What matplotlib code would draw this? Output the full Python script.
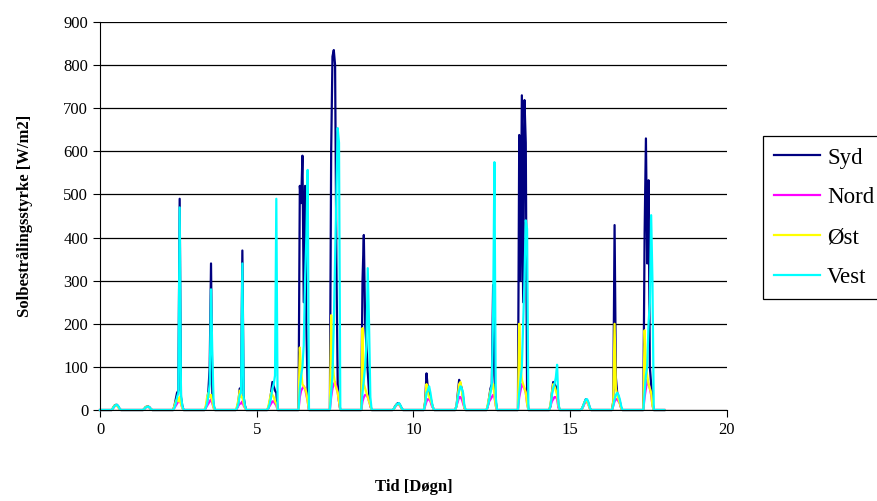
import matplotlib.pyplot as plt
import numpy as np

# hourly irradiance for hours 08..16 of each day (night hours are zero)
hours = [8, 9, 10, 11, 12, 13, 14, 15, 16]

syd = [
    [0, 0, 5, 10, 12, 12, 8, 3, 0],
    [0, 0, 3, 7, 8, 8, 6, 2, 0],
    [0, 10, 25, 40, 45, 490, 30, 10, 0],
    [0, 5, 20, 45, 100, 340, 40, 10, 0],
    [0, 5, 20, 50, 45, 370, 30, 10, 0],
    [0, 5, 20, 40, 65, 55, 45, 40, 0],
    [0, 520, 480, 590, 250, 520, 200, 40, 0],
    [0, 600, 820, 835, 800, 345, 60, 20, 0],
    [0, 300, 406, 200, 150, 90, 40, 10, 0],
    [0, 3, 9, 13, 16, 15, 10, 4, 0],
    [0, 20, 85, 50, 40, 30, 15, 5, 0],
    [0, 10, 40, 70, 60, 50, 30, 5, 0],
    [0, 10, 30, 50, 60, 290, 80, 20, 0],
    [0, 638, 300, 730, 250, 719, 620, 40, 0],
    [0, 10, 40, 65, 60, 55, 50, 10, 0],
    [0, 3, 10, 18, 25, 22, 15, 5, 0],
    [0, 20, 429, 75, 40, 30, 20, 5, 0],
    [0, 410, 630, 340, 533, 100, 60, 20, 0],
]
nord = [
    [0, 0, 4, 8, 10, 10, 7, 2, 0],
    [0, 0, 3, 6, 7, 7, 5, 2, 0],
    [0, 5, 10, 15, 20, 25, 15, 5, 0],
    [0, 5, 10, 15, 20, 25, 15, 5, 0],
    [0, 5, 10, 15, 15, 20, 10, 5, 0],
    [0, 5, 10, 15, 20, 20, 15, 10, 0],
    [0, 30, 45, 50, 55, 50, 35, 20, 0],
    [0, 30, 50, 60, 65, 55, 40, 20, 0],
    [0, 20, 30, 35, 35, 30, 20, 10, 0],
    [0, 3, 7, 11, 13, 12, 8, 3, 0],
    [0, 10, 20, 25, 25, 20, 10, 5, 0],
    [0, 10, 20, 30, 30, 25, 15, 5, 0],
    [0, 10, 20, 25, 30, 35, 30, 10, 0],
    [0, 30, 45, 60, 55, 50, 40, 15, 0],
    [0, 10, 20, 25, 30, 30, 25, 5, 0],
    [0, 3, 8, 15, 20, 18, 12, 4, 0],
    [0, 10, 20, 25, 25, 20, 15, 5, 0],
    [0, 30, 50, 70, 60, 50, 35, 10, 0],
]
ost = [
    [0, 0, 5, 10, 11, 10, 6, 2, 0],
    [0, 0, 3, 7, 8, 7, 5, 2, 0],
    [0, 10, 20, 25, 20, 30, 15, 5, 0],
    [0, 10, 30, 40, 30, 35, 20, 5, 0],
    [0, 10, 25, 45, 30, 30, 15, 5, 0],
    [0, 10, 25, 40, 35, 30, 20, 15, 0],
    [0, 145, 90, 60, 55, 50, 40, 20, 0],
    [0, 220, 120, 80, 60, 50, 40, 20, 0],
    [0, 190, 60, 50, 40, 30, 20, 10, 0],
    [0, 3, 8, 12, 14, 13, 9, 3, 0],
    [0, 20, 60, 40, 30, 25, 15, 5, 0],
    [0, 10, 35, 60, 65, 45, 25, 5, 0],
    [0, 15, 30, 45, 50, 60, 35, 10, 0],
    [0, 200, 100, 70, 60, 50, 40, 15, 0],
    [0, 15, 40, 60, 55, 45, 35, 10, 0],
    [0, 3, 10, 18, 22, 20, 12, 4, 0],
    [0, 20, 200, 50, 35, 25, 15, 5, 0],
    [0, 185, 100, 80, 60, 50, 40, 10, 0],
]
vest = [
    [0, 0, 4, 9, 11, 12, 9, 3, 0],
    [0, 0, 3, 6, 7, 8, 6, 2, 0],
    [0, 5, 15, 30, 40, 470, 35, 10, 0],
    [0, 5, 15, 35, 60, 280, 130, 15, 0],
    [0, 5, 15, 35, 40, 340, 30, 10, 0],
    [0, 5, 15, 30, 50, 60, 80, 490, 0],
    [0, 50, 80, 100, 150, 300, 400, 557, 0],
    [0, 40, 80, 200, 345, 500, 654, 620, 0],
    [0, 40, 70, 100, 150, 329, 200, 30, 0],
    [0, 3, 8, 12, 15, 16, 11, 4, 0],
    [0, 15, 40, 45, 55, 40, 20, 5, 0],
    [0, 10, 30, 45, 55, 50, 40, 10, 0],
    [0, 10, 25, 40, 60, 225, 575, 30, 0],
    [0, 40, 70, 100, 200, 300, 440, 420, 0],
    [0, 10, 35, 50, 60, 75, 105, 15, 0],
    [0, 3, 10, 18, 25, 25, 18, 6, 0],
    [0, 10, 25, 35, 40, 35, 25, 10, 0],
    [0, 40, 80, 100, 200, 250, 452, 300, 0],
]

series = [("Syd", syd, "#000080"), ("Nord", nord, "#FF00FF"),
          ("Øst", ost, "#FFFF00"), ("Vest", vest, "#00FFFF")]


def to_hourly(days):
    # full 24 h per day, zeros at night
    vals = np.zeros(len(days) * 24 + 1)
    for d, row in enumerate(days):
        for h, v in zip(hours, row):
            vals[d * 24 + h] = v
    return vals


plt.rcParams['font.family'] = ['Liberation Serif', 'DejaVu Serif']

fig = plt.figure(figsize=(8.78, 5.01), dpi=100)
ax = fig.add_axes([0.1139, 0.1816, 0.714, 0.7744])

for name, days, col in series:
    y = to_hourly(days)
    t = np.arange(len(y)) / 24.0
    ax.plot(t, y, color=col, lw=1.6, label=name, clip_on=False)

ax.set_xlim(0, 20)
ax.set_ylim(0, 900)
ax.set_xticks([0, 5, 10, 15, 20])
ax.set_yticks(range(0, 901, 100))
ax.yaxis.grid(True, color='black', lw=0.9)
ax.set_axisbelow(True)
for s in ['top', 'right']:
    ax.spines[s].set_visible(False)
ax.tick_params(labelsize=12, length=5, color='black')
ax.set_xlabel('Tid [Døgn]', fontsize=12, fontweight='bold', labelpad=30)
ax.set_ylabel('Solbestrålingsstyrke [W/m2]', fontsize=12, fontweight='bold', labelpad=22)

leg = fig.legend(loc='upper left', bbox_to_anchor=(763 / 878, 1 - 136 / 501),
                 borderaxespad=0, fontsize=16.5, frameon=True, fancybox=False,
                 edgecolor='black', framealpha=1, handlelength=2.0,
                 handletextpad=0.3, borderpad=0.5, labelspacing=0.82)
leg.get_frame().set_linewidth(0.9)

fig.savefig('out.png', dpi=100)
